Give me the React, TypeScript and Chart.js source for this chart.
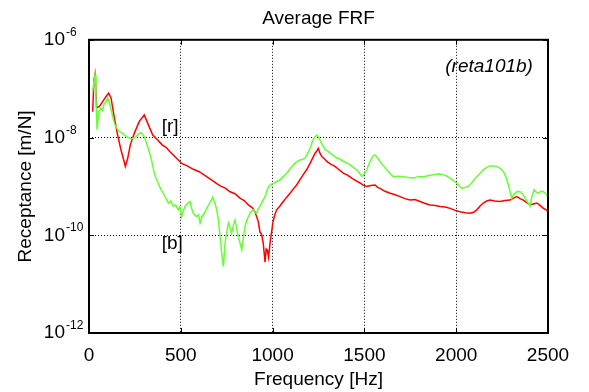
import React, { useEffect, useRef } from 'react';
import { Chart, registerables } from 'chart.js';

Chart.register(...registerables);

const FONT = '"Liberation Sans", Arial, Helvetica, sans-serif';

const chartTitle = 'Average FRF';
const xAxisTitle = 'Frequency [Hz]';
const yAxisTitle = 'Receptance [m/N]';
const xTickValues = [0, 500, 1000, 1500, 2000, 2500];
const yTickExponents = [-12, -10, -8, -6];

// [frequency Hz, log10 of receptance m/N]
const redFRF: [number, number][] = [
  [20, -7.47], [27, -6.82], [33, -6.70], [42, -7.39], [56, -7.37], [75, -7.26], [93, -7.16],
  [107, -7.09], [120, -7.19], [138, -7.60], [156, -7.95], [174, -8.25], [189, -8.46], [198, -8.59],
  [211, -8.42], [225, -8.15], [247, -7.91], [274, -7.67], [301, -7.54], [320, -7.71], [347, -7.95],
  [374, -8.05], [398, -8.15], [420, -8.20], [441, -8.29], [470, -8.40], [505, -8.53], [535, -8.58],
  [568, -8.65], [600, -8.70], [641, -8.80], [680, -8.90], [714, -8.99], [740, -9.03], [768, -9.11],
  [795, -9.15], [822, -9.24], [845, -9.29], [868, -9.38], [890, -9.44], [904, -9.52], [922, -9.72],
  [931, -9.93], [940, -9.98], [949, -10.16], [959, -10.55], [965, -10.28], [971, -10.30], [978, -10.45],
  [986, -10.16], [1001, -9.75], [1012, -9.58], [1022, -9.48], [1040, -9.40], [1058, -9.31], [1077, -9.22],
  [1095, -9.14], [1113, -9.05], [1131, -8.97], [1149, -8.86], [1167, -8.76], [1185, -8.66], [1204, -8.53],
  [1218, -8.42], [1231, -8.32], [1240, -8.28], [1249, -8.22], [1258, -8.32], [1268, -8.39], [1280, -8.43],
  [1295, -8.49], [1318, -8.55], [1340, -8.59], [1362, -8.66], [1385, -8.73], [1408, -8.77], [1431, -8.83],
  [1453, -8.88], [1476, -8.93], [1495, -8.98], [1513, -9.00], [1535, -8.98], [1558, -8.97], [1572, -9.02],
  [1585, -9.04], [1612, -9.10], [1640, -9.14], [1667, -9.17], [1694, -9.21], [1721, -9.25], [1749, -9.28],
  [1776, -9.27], [1803, -9.31], [1830, -9.35], [1858, -9.38], [1885, -9.39], [1912, -9.41], [1940, -9.42],
  [1967, -9.45], [1994, -9.49], [2021, -9.52], [2048, -9.54], [2075, -9.55], [2095, -9.53], [2112, -9.48],
  [2130, -9.40], [2148, -9.34], [2166, -9.30], [2184, -9.28], [2210, -9.30], [2239, -9.31], [2266, -9.29],
  [2293, -9.28], [2312, -9.24], [2330, -9.21], [2348, -9.25], [2366, -9.28], [2384, -9.33], [2402, -9.38],
  [2420, -9.36], [2439, -9.34], [2457, -9.39], [2475, -9.45], [2490, -9.48], [2500, -9.52],
];

const greenFRF: [number, number][] = [
  [20, -7.06], [27, -6.85], [33, -6.72], [38, -7.20], [44, -7.84], [53, -7.47], [65, -7.40], [74, -7.45],
  [83, -7.30], [92, -7.28], [102, -7.19], [114, -7.33], [125, -7.50], [138, -7.71], [150, -7.80], [165, -7.88],
  [178, -7.90], [192, -7.95], [210, -7.99], [229, -8.03], [243, -8.01], [256, -7.98], [270, -7.93], [283, -7.90],
  [292, -7.94], [301, -7.98], [310, -8.08], [320, -8.19], [329, -8.30], [338, -8.42], [347, -8.58], [356, -8.73],
  [366, -8.85], [377, -8.93], [390, -9.05], [405, -9.14], [418, -9.24], [432, -9.34], [445, -9.30], [459, -9.41],
  [472, -9.38], [486, -9.48], [495, -9.42], [505, -9.62], [514, -9.50], [523, -9.41], [536, -9.35], [550, -9.31],
  [559, -9.45], [568, -9.55], [585, -9.62], [596, -9.58], [605, -9.75], [615, -9.62], [628, -9.55], [641, -9.45],
  [656, -9.35], [666, -9.28], [674, -9.22], [685, -9.33], [696, -9.48], [705, -9.70], [714, -10.03], [723, -10.37],
  [732, -10.64], [741, -10.16], [750, -9.95], [759, -9.75], [768, -9.85], [777, -9.96], [786, -9.80], [795, -9.69],
  [804, -9.85], [813, -10.03], [822, -10.15], [832, -10.30], [841, -10.05], [850, -9.82], [859, -9.70], [868, -9.62],
  [881, -9.52], [895, -9.48], [904, -9.53], [913, -9.55], [922, -9.45], [931, -9.41], [945, -9.30], [959, -9.21],
  [968, -9.10], [977, -9.01], [990, -8.96], [1004, -8.94], [1022, -8.90], [1040, -8.87], [1058, -8.80], [1077, -8.73],
  [1095, -8.64], [1113, -8.56], [1131, -8.50], [1149, -8.46], [1163, -8.45], [1177, -8.42], [1190, -8.33], [1204, -8.22],
  [1215, -8.10], [1226, -8.01], [1240, -7.95], [1249, -7.99], [1258, -8.05], [1272, -8.16], [1286, -8.25], [1300, -8.28],
  [1313, -8.32], [1331, -8.37], [1349, -8.42], [1367, -8.44], [1385, -8.49], [1404, -8.52], [1422, -8.56], [1440, -8.61],
  [1458, -8.66], [1472, -8.72], [1486, -8.80], [1500, -8.74], [1513, -8.66], [1527, -8.52], [1540, -8.42], [1549, -8.37],
  [1558, -8.36], [1572, -8.42], [1585, -8.49], [1603, -8.58], [1622, -8.66], [1640, -8.74], [1658, -8.80], [1685, -8.79],
  [1712, -8.80], [1740, -8.82], [1767, -8.83], [1794, -8.80], [1821, -8.80], [1848, -8.78], [1876, -8.76], [1903, -8.74],
  [1930, -8.76], [1948, -8.79], [1966, -8.83], [1985, -8.88], [2003, -8.93], [2017, -8.99], [2030, -9.04], [2048, -9.02],
  [2066, -9.00], [2090, -8.90], [2112, -8.80], [2130, -8.73], [2148, -8.66], [2166, -8.61], [2184, -8.58], [2203, -8.58],
  [2221, -8.59], [2239, -8.63], [2257, -8.70], [2270, -8.80], [2284, -8.97], [2293, -9.10], [2302, -9.24], [2311, -9.18],
  [2320, -9.14], [2334, -9.10], [2348, -9.11], [2362, -9.16], [2375, -9.24], [2389, -9.32], [2402, -9.41], [2413, -9.20],
  [2424, -9.07], [2436, -9.12], [2448, -9.14], [2461, -9.10], [2475, -9.11], [2488, -9.15], [2500, -9.21],
];

// text labels placed in data coordinates
const labelTexts = ['[r]', '[b]', '(reta101b)'];
const labelFreqs = [396, 396, 2418];
const labelExps = [-7.78, -10.18, -6.55];
const labelAligns: CanvasTextAlign[] = ['left', 'left', 'right'];
const labelItalic = [false, false, true];

const toPoints = (arr: [number, number][]) => arr.map(([f, e]) => ({ x: f, y: Math.pow(10, e) }));

const Y_TICK_PAD = 24;

const framePlugin = {
  id: 'frameAndLabels',
  afterDraw(chart: any) {
    const { ctx, chartArea, scales } = chart;
    const { left, top, right, bottom } = chartArea;
    const xs = scales.x;
    const ys = scales.y;
    ctx.save();
    ctx.strokeStyle = '#000';
    ctx.lineWidth = 1;
    ctx.setLineDash([]);
    ctx.beginPath();
    for (const v of xTickValues) {
      const px = Math.round(xs.getPixelForValue(v)) + 0.5;
      ctx.moveTo(px, bottom); ctx.lineTo(px, bottom - 5);
      ctx.moveTo(px, top); ctx.lineTo(px, top + 5);
    }
    for (const e of yTickExponents) {
      const py = Math.round(ys.getPixelForValue(Math.pow(10, e))) + 0.5;
      ctx.moveTo(left, py); ctx.lineTo(left + 5, py);
      ctx.moveTo(right, py); ctx.lineTo(right - 5, py);
    }
    ctx.stroke();
    ctx.lineWidth = 2;
    ctx.strokeRect(left, top, right - left, bottom - top);

    ctx.fillStyle = '#000';
    ctx.font = `12px ${FONT}`;
    ctx.textAlign = 'left';
    ctx.textBaseline = 'alphabetic';
    for (const e of yTickExponents) {
      const py = ys.getPixelForValue(Math.pow(10, e));
      ctx.fillText(String(e), ys.right - Y_TICK_PAD + 1, py - 4);
    }

    ctx.textBaseline = 'middle';
    for (let i = 0; i < labelTexts.length; i++) {
      ctx.font = `${labelItalic[i] ? 'italic ' : ''}19px ${FONT}`;
      ctx.textAlign = labelAligns[i];
      ctx.fillText(labelTexts[i], xs.getPixelForValue(labelFreqs[i]), ys.getPixelForValue(Math.pow(10, labelExps[i])));
    }
    ctx.restore();
  },
};

export default function App() {
  const canvasRef = useRef<HTMLCanvasElement | null>(null);

  useEffect(() => {
    const canvas = canvasRef.current;
    if (!canvas) return;
    const chart = new Chart(canvas, {
      type: 'line',
      data: {
        datasets: [
          {
            label: 'b',
            data: toPoints(greenFRF),
            borderColor: '#66ff33',
            borderWidth: 1.5,
            pointRadius: 0,
            tension: 0,
            fill: false,
          },
          {
            label: 'r',
            data: toPoints(redFRF),
            borderColor: '#ff0000',
            borderWidth: 1.5,
            pointRadius: 0,
            tension: 0,
            fill: false,
          },
        ],
      },
      options: {
        animation: false,
        responsive: false,
        devicePixelRatio: 1,
        layout: { padding: { left: 0, right: 41, top: 0, bottom: 0 } },
        plugins: {
          legend: { display: false },
          tooltip: { enabled: false },
          title: {
            display: true,
            text: chartTitle,
            color: '#000',
            fullSize: false,
            font: { family: FONT, size: 19, weight: 'normal' },
            padding: { top: 7, bottom: 10 },
          },
        },
        scales: {
          x: {
            type: 'linear',
            min: 0,
            max: 2500,
            afterBuildTicks: (s: any) => { s.ticks = xTickValues.map((v) => ({ value: v })); },
            afterFit: (s: any) => { s.height = 59; },
            ticks: {
              color: '#000',
              font: { family: FONT, size: 19 },
              padding: 11,
              maxRotation: 0,
              autoSkip: false,
              callback: (v: any) => String(v),
            },
            grid: { color: '#000', lineWidth: 1, drawTicks: false },
            border: { display: false, dash: [1, 2] },
            title: {
              display: true,
              text: xAxisTitle,
              color: '#000',
              font: { family: FONT, size: 19 },
              padding: { top: 0, bottom: 1 },
            },
          },
          y: {
            type: 'logarithmic',
            min: 1e-12,
            max: 1e-6,
            afterBuildTicks: (s: any) => { s.ticks = yTickExponents.map((e) => ({ value: Math.pow(10, e) })); },
            afterFit: (s: any) => { s.width = 89; },
            ticks: {
              color: '#000',
              font: { family: FONT, size: 19 },
              padding: Y_TICK_PAD,
              autoSkip: false,
              callback: () => '10',
            },
            grid: { color: '#000', lineWidth: 1, drawTicks: false },
            border: { display: false, dash: [1, 2] },
            title: {
              display: true,
              text: yAxisTitle,
              color: '#000',
              font: { family: FONT, size: 19 },
              padding: { top: 14, bottom: 0 },
            },
          },
        },
      },
      plugins: [framePlugin],
    });
    return () => chart.destroy();
  }, []);

  return (
    <div style={{ position: 'absolute', left: 0, top: 0, width: 589, height: 392, background: '#fff' }}>
      <canvas ref={canvasRef} width={589} height={392} style={{ display: 'block' }} />
    </div>
  );
}
